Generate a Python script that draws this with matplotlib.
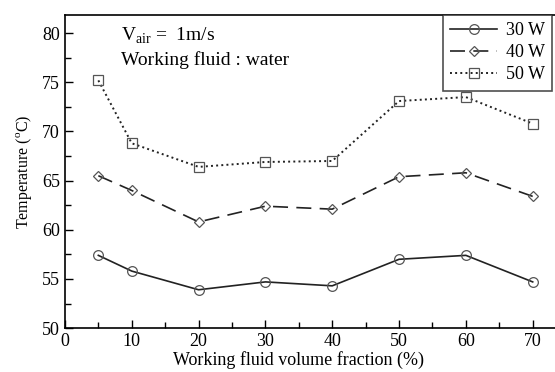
import matplotlib.pyplot as plt

plt.rcParams['font.family'] = ['Liberation Serif', 'DejaVu Serif']
plt.rcParams['mathtext.fontset'] = 'custom'
plt.rcParams['mathtext.rm'] = 'Liberation Serif'

# volume fraction [%] and wall temperature [oC] per heat input
fraction = [5, 10, 20, 30, 40, 50, 60, 70]
t_30w = [57.4, 55.8, 53.9, 54.7, 54.3, 57.0, 57.4, 54.7]
t_40w = [65.5, 64.0, 60.8, 62.4, 62.1, 65.4, 65.8, 63.4]
t_50w = [75.2, 68.8, 66.4, 66.9, 67.0, 73.1, 73.5, 70.8]
labels = ["30 W", "40 W", "50 W"]

fig = plt.figure(figsize=(5.55, 3.72), dpi=100)
ax = fig.add_axes([0.117, 0.118, 0.903, 0.843])

c = "#222222"
l1, = ax.plot(fraction, t_30w, "-", color=c, lw=1.2, marker="o", ms=7,
              mfc="none", mec="#555555", mew=0.9)
l2, = ax.plot(fraction, t_40w, color=c, lw=1.2, dashes=(9, 5), marker="D", ms=5,
              mfc="none", mec="#555555", mew=0.9)
l3, = ax.plot(fraction, t_50w, ":", color=c, lw=1.4, marker="s", ms=7,
              mfc="none", mec="#555555", mew=0.9)

ax.set_xlim(0, 75)
ax.set_ylim(50, 81.9)
ax.set_xticks(range(0, 71, 10))
ax.set_xticks(range(5, 75, 10), minor=True)
ax.set_yticks(range(50, 81, 5))
ax.set_yticks([52.5 + 5 * i for i in range(6)], minor=True)
ax.tick_params(which="both", direction="in", top=False, right=False,
               labelsize=13, width=1.0)
ax.tick_params(which="major", length=6)
ax.tick_params(which="minor", length=4)
for s in ax.spines.values():
    s.set_linewidth(1.2)
ax.spines["right"].set_visible(False)

ax.set_xlabel("Working fluid volume fraction (%)", fontsize=13)
ax.xaxis.set_label_coords(0.467, -0.072)
ax.set_ylabel("Temperature ($^{\\rm o}$C)", fontsize=11.5, labelpad=6)

ax.text(8.4, 79.7, "V$_{\\rm air}$ =  1m/s", fontsize=14, va="center")
ax.text(8.4, 77.3, "Working fluid : water", fontsize=14, va="center")

leg = fig.legend([l1, l2, l3], labels, loc="upper left",
                 bbox_to_anchor=(443 / 555, 1 - 15 / 372), fontsize=13,
                 frameon=True, fancybox=False, edgecolor="#222222",
                 handlelength=2.6, handletextpad=0.5, borderpad=0.4,
                 labelspacing=0.28, borderaxespad=0)
leg.get_frame().set_linewidth(1.2)

fig.savefig("out.png", dpi=100)
